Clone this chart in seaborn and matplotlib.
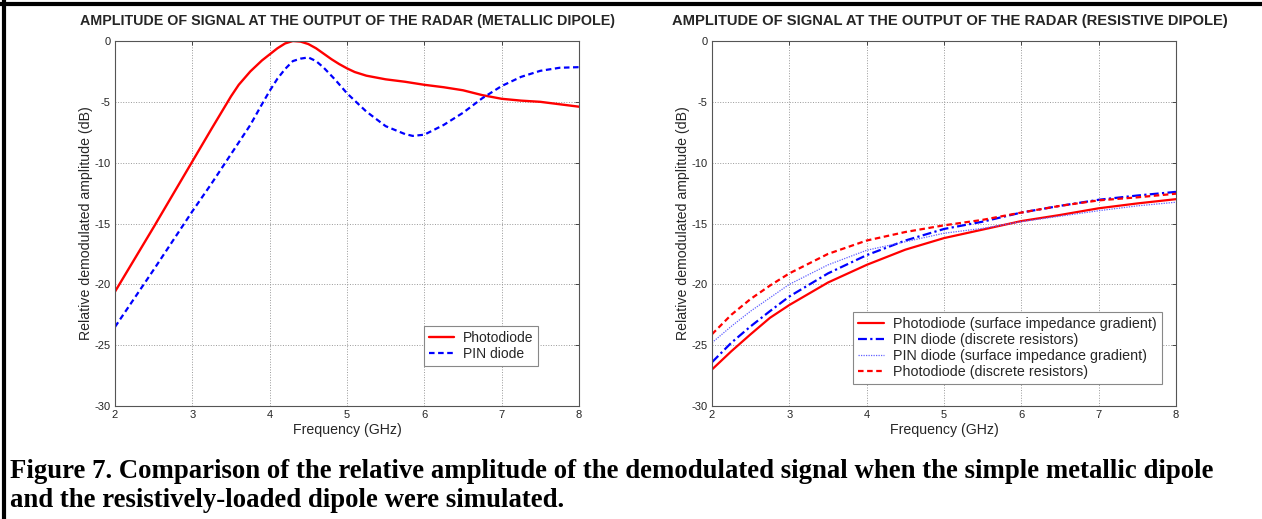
import matplotlib
matplotlib.use("Agg")
import matplotlib.pyplot as plt
import matplotlib.lines as mlines
import pandas as pd
import seaborn as sns

# metallic dipole (left panel)
freq_photo_met = [2.0, 2.5, 3.0, 3.25, 3.5, 3.6, 3.75, 3.9, 4.0, 4.1, 4.2, 4.3, 4.4, 4.5, 4.6, 4.7,
                  4.8, 4.9, 5.0, 5.1, 5.25, 5.5, 5.75, 6.0, 6.25, 6.5, 6.75, 7.0, 7.25, 7.5, 7.75, 8.0]
photo_met = [-20.6, -15.3, -9.9, -7.2, -4.55, -3.6, -2.5, -1.6, -1.1, -0.6, -0.2, 0.0, -0.05, -0.25,
             -0.6, -1.05, -1.5, -1.9, -2.25, -2.55, -2.85, -3.15, -3.35, -3.6, -3.8, -4.05, -4.45,
             -4.75, -4.9, -5.0, -5.2, -5.4]
freq_pin_met = [2.0, 2.5, 3.0, 3.25, 3.5, 3.75, 3.9, 4.0, 4.1, 4.2, 4.3, 4.4, 4.5, 4.6, 4.7, 4.85,
                5.0, 5.25, 5.5, 5.75, 5.85, 6.0, 6.25, 6.5, 6.75, 7.0, 7.25, 7.5, 7.75, 8.0]
pin_met = [-23.5, -18.8, -14.0, -11.7, -9.3, -6.9, -5.2, -4.1, -3.1, -2.3, -1.65, -1.45, -1.35,
           -1.65, -2.2, -3.2, -4.3, -5.8, -7.0, -7.65, -7.8, -7.7, -6.9, -5.9, -4.7, -3.7, -2.95,
           -2.45, -2.2, -2.15]

# resistive dipole (right panel)
freq_res = [2.0, 2.25, 2.5, 2.75, 3.0, 3.5, 4.0, 4.5, 5.0, 5.5, 6.0, 6.5, 7.0, 7.5, 8.0]
photo_grad = [-27.0, -25.5, -24.1, -22.75, -21.7, -19.85, -18.4, -17.15, -16.2, -15.5, -14.8, -14.3,
              -13.75, -13.35, -13.0]
pin_disc = [-26.4, -24.8, -23.45, -22.2, -21.0, -19.1, -17.6, -16.4, -15.45, -14.85, -14.1, -13.55,
            -13.05, -12.7, -12.4]
pin_grad = [-24.8, -23.45, -22.2, -21.1, -20.0, -18.4, -17.2, -16.5, -15.8, -15.4, -14.85, -14.4,
            -13.95, -13.55, -13.25]
photo_disc = [-24.1, -22.5, -21.2, -20.1, -19.1, -17.5, -16.4, -15.7, -15.15, -14.7, -14.1, -13.55,
              -13.1, -12.85, -12.55]

xticks = [2, 3, 4, 5, 6, 7, 8]
yticks = [0, -5, -10, -15, -20, -25, -30]

sns.set_style("white")
plt.rcParams["font.family"] = ["Liberation Sans", "DejaVu Sans"]

W, H = 1262, 519
fig = plt.figure(figsize=(W / 100, H / 100), dpi=100)

def box(x0, x1, y0, y1):
    return [x0 / W, 1 - y1 / H, (x1 - x0) / W, (y1 - y0) / H]

ax1 = fig.add_axes(box(115, 579, 41, 406))
ax2 = fig.add_axes(box(712, 1176, 41, 406))

df_pm = pd.DataFrame({"f": freq_photo_met, "v": photo_met})
df_bm = pd.DataFrame({"f": freq_pin_met, "v": pin_met})
df_res = pd.DataFrame({"f": freq_res, "pg": photo_grad, "pd": pin_disc, "pig": pin_grad, "phd": photo_disc})

sns.lineplot(data=df_pm, x="f", y="v", ax=ax1, color="#ff0000", lw=1.7, label="Photodiode")
l = sns.lineplot(data=df_bm, x="f", y="v", ax=ax1, color="#0000ff", lw=1.6,
                 label="PIN diode").lines[-1]
l.set_dashes((2.5, 1.6))

sns.lineplot(data=df_res, x="f", y="pg", ax=ax2, color="#ff0000", lw=1.6,
             label="Photodiode (surface impedance gradient)")
l = sns.lineplot(data=df_res, x="f", y="pd", ax=ax2, color="#0000ff", lw=1.6,
                 label="PIN diode (discrete resistors)").lines[-1]
l.set_dashes((4, 1.5, 1, 1.5))
l = sns.lineplot(data=df_res, x="f", y="pig", ax=ax2, color="#6060ff", lw=0.9,
                 label="PIN diode (surface impedance gradient)").lines[-1]
l.set_dashes((1, 1))
l = sns.lineplot(data=df_res, x="f", y="phd", ax=ax2, color="#ff0000", lw=1.6,
                 label="Photodiode (discrete resistors)").lines[-1]
l.set_dashes((2.5, 1.6))

for ax in (ax1, ax2):
    ax.set_xlim(2, 8)
    ax.set_ylim(-30, 0)
    ax.set_xticks(xticks)
    ax.set_yticks(yticks)
    ax.set_xticklabels([str(t) for t in xticks])
    ax.set_yticklabels([str(t) for t in yticks])
    ax.grid(True, linestyle=":", color="#999999", lw=0.7)
    ax.tick_params(direction="in", length=3, width=0.7, labelsize=8, color="#444444",
                   top=True, right=True, pad=3)
    for s in ax.spines.values():
        s.set_color("#555555")
        s.set_linewidth(0.8)
    ax.set_xlabel("Frequency (GHz)", fontsize=10.2, labelpad=2)
    ax.set_ylabel("Relative demodulated amplitude (dB)", fontsize=10.2, labelpad=1)

leg_kw = dict(loc="lower left", borderaxespad=0, fancybox=False, framealpha=1,
              edgecolor="#888888", handlelength=1.8, handletextpad=0.65)
leg1 = ax1.legend(bbox_to_anchor=(0.666, 0.11), fontsize=10, labelspacing=0.15,
                  borderpad=0.35, **leg_kw)
leg2 = ax2.legend(bbox_to_anchor=(0.304, 0.059), fontsize=10.3, labelspacing=0.15,
                  borderpad=0.35, **leg_kw)
for leg in (leg1, leg2):
    leg.get_frame().set_linewidth(0.8)

fig.text(347 / W, 1 - 21 / H, "AMPLITUDE OF SIGNAL AT THE OUTPUT OF THE RADAR (METALLIC DIPOLE)",
         ha="center", va="center", fontsize=10.3, fontweight="bold")
fig.text(950 / W, 1 - 21 / H, "AMPLITUDE OF SIGNAL AT THE OUTPUT OF THE RADAR (RESISTIVE DIPOLE)",
         ha="center", va="center", fontsize=10.6, fontweight="bold")

cap = ("Figure 7. Comparison of the relative amplitude of the demodulated signal when the simple metallic dipole\n"
       "and the resistively-loaded dipole were simulated.")
fig.text(10 / W, 1 - 486 / H, cap, ha="left", va="center", fontsize=19.3, fontweight="bold",
         family=["Liberation Serif", "DejaVu Serif"], linespacing=1.2, color="black")

# page frame (top and left rules)
fig.add_artist(mlines.Line2D([0, 1], [1 - 3.5 / H, 1 - 3.5 / H], color="black", lw=3))
fig.add_artist(mlines.Line2D([4 / W, 4 / W], [0, 1], color="black", lw=3))

fig.savefig("out.png", dpi=100)
